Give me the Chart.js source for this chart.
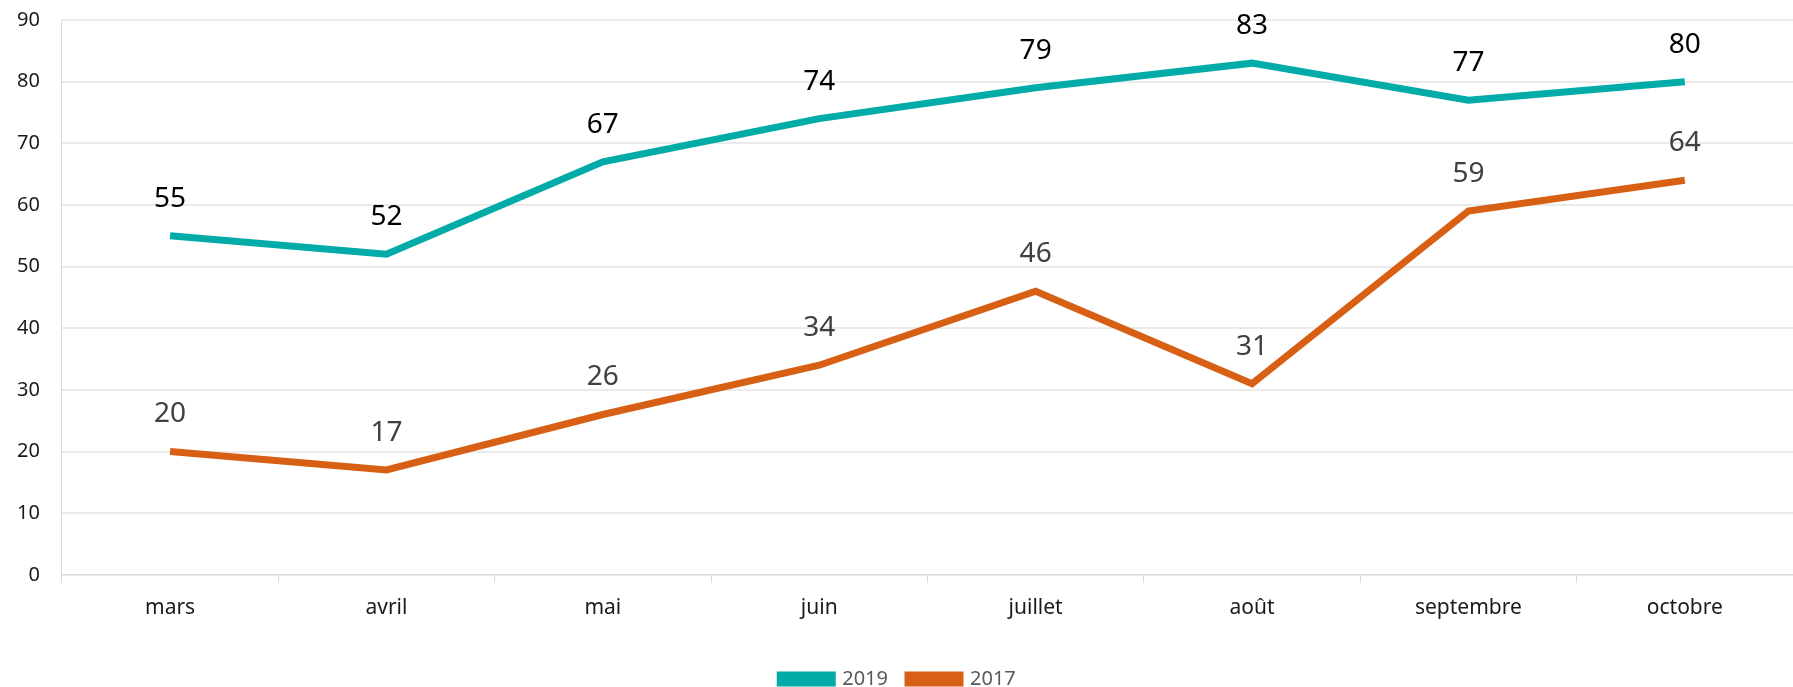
<!DOCTYPE html>
<html>
<head>
<meta charset="utf-8">
<script src="https://cdn.jsdelivr.net/npm/chart.js@4/dist/chart.umd.min.js"></script>
<style>
  html, body { margin: 0; padding: 0; background: #fff; overflow: hidden; }
  #wrap { width: 1793px; height: 699px; margin-top: -12px; }
</style>
</head>
<body>
<div id="wrap"><canvas id="chart"></canvas></div>
<script>
const months = ['mars', 'avril', 'mai', 'juin', 'juillet', 'août', 'septembre', 'octobre'];
const values2019 = [55, 52, 67, 74, 79, 83, 77, 80];
const values2017 = [20, 17, 26, 34, 46, 31, 59, 64];
const yTicks = [0, 10, 20, 30, 40, 50, 60, 70, 80, 90];

const FONT = "'Noto Sans', 'Open Sans', sans-serif";

// draws the value above each point, like excel data labels
const valueLabels = {
  id: 'valueLabels',
  afterDatasetsDraw(chart) {
    const ctx = chart.ctx;
    ctx.save();
    ctx.font = '28px ' + FONT;
    ctx.textAlign = 'center';
    ctx.textBaseline = 'middle';
    chart.data.datasets.forEach((ds, i) => {
      const meta = chart.getDatasetMeta(i);
      ctx.fillStyle = ds.labelColor;
      meta.data.forEach((pt, j) => {
        ctx.fillText(String(ds.data[j]), pt.x, pt.y - 37);
      });
    });
    ctx.restore();
  }
};

new Chart(document.getElementById('chart'), {
  type: 'line',
  plugins: [valueLabels],
  data: {
    labels: months,
    datasets: [
      {
        label: '2019',
        data: values2019,
        borderColor: '#00aba8',
        backgroundColor: '#00aba8',
        labelColor: '#000000',
        borderWidth: 7,
        pointRadius: 0,
        tension: 0
      },
      {
        label: '2017',
        data: values2017,
        borderColor: '#d86015',
        backgroundColor: '#d86015',
        labelColor: '#404040',
        borderWidth: 7,
        pointRadius: 0,
        tension: 0
      }
    ]
  },
  options: {
    responsive: true,
    maintainAspectRatio: false,
    animation: false,
    layout: { padding: { top: 0, left: -5, right: -8, bottom: -12 } },
    plugins: {
      legend: {
        position: 'bottom',
        labels: {
          boxWidth: 52,
          boxHeight: 8,
          padding: 20,
          color: '#595959',
          font: { family: FONT, size: 20 }
        }
      },
      tooltip: { enabled: false }
    },
    scales: {
      x: {
        offset: true,
        grid: {
          offset: true,
          drawOnChartArea: false,
          tickLength: 8,
          color: '#d9d9d9'
        },
        border: { color: '#d9d9d9' },
        ticks: {
          color: '#1a1a1a',
          padding: 13,
          font: { family: FONT, size: 21 }
        },
        // extra room between the month labels and the legend
        afterFit: (axis) => { axis.height += 15; }
      },
      y: {
        min: 0,
        max: 90,
        afterBuildTicks: (axis) => { axis.ticks = yTicks.map(v => ({ value: v })); },
        grid: { color: '#ebebeb', drawTicks: false, lineWidth: 2 },
        border: { color: '#d9d9d9' },
        ticks: {
          color: '#1a1a1a',
          padding: 22,
          font: { family: FONT, size: 20, lineHeight: 1 }
        }
      }
    }
  }
});
</script>
</body>
</html>
